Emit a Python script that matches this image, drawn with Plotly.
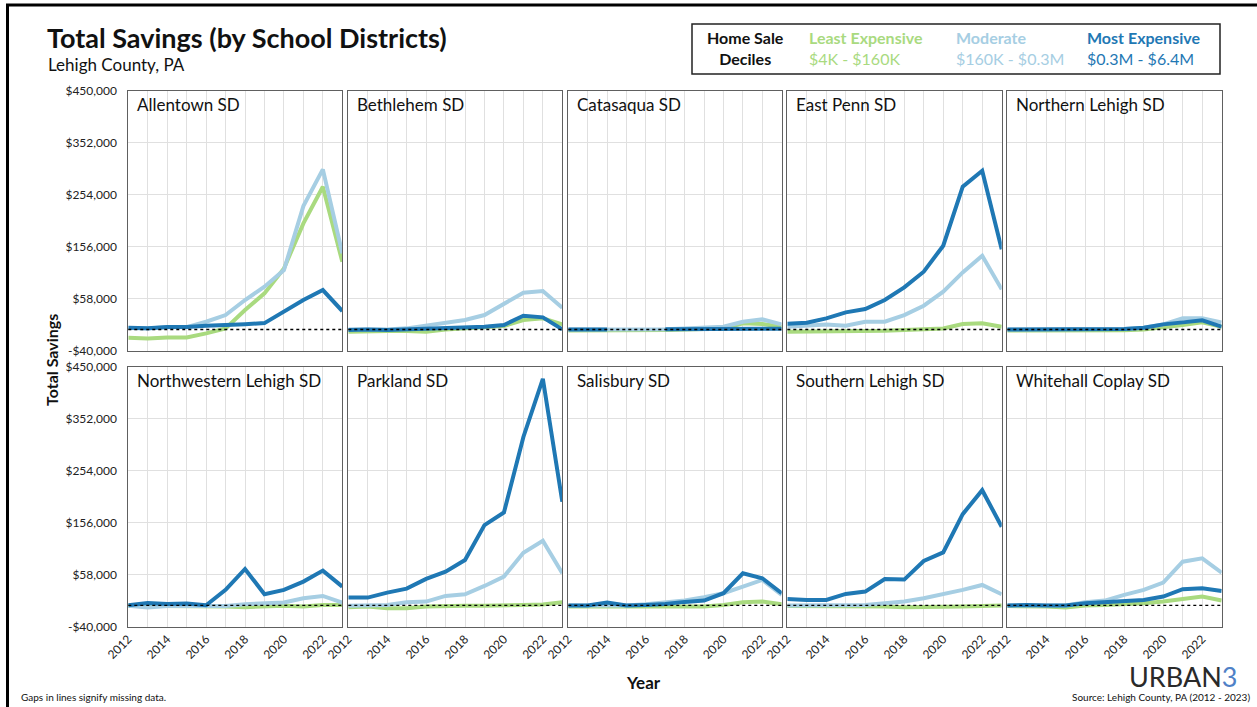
import plotly.graph_objects as go

W, H = 1257, 707

years = list(range(2012, 2024))
districts = ["Allentown SD", "Bethlehem SD", "Catasaqua SD", "East Penn SD", "Northern Lehigh SD",
             "Northwestern Lehigh SD", "Parkland SD", "Salisbury SD", "Southern Lehigh SD",
             "Whitehall Coplay SD"]

y_ticks = [-40000, 58000, 156000, 254000, 352000, 450000]
y_tick_text = ["-$40,000", "$58,000", "$156,000", "$254,000", "$352,000", "$450,000"]
x_ticks = [2012, 2014, 2016, 2018, 2020, 2022]

# Least expensive decile ($4K - $160K)
least = {
    "Allentown SD": [-15500, -16800, -15000, -14900, -7300, 2100, 36600, 68000, 115000, 200000, 269000, 127700],
    "Bethlehem SD": [-4200, -3000, -3000, -3000, -4200, 0, 2000, 3300, 6500, 17800, 21000, 9600],
    "Catasaqua SD": [-2000, -2000, -2000, -2000, -2000, -1000, 0, 1500, 2000, 11500, 10200, 5200],
    "East Penn SD": [-4200, -4200, -4200, -4200, -3000, -2400, -1000, 200, 2000, 10200, 11500, 5200],
    "Northern Lehigh SD": [-2000, -2000, -2000, -2000, -2000, -2000, -1500, 0, 3300, 8400, 13400, 5200],
    "Northwestern Lehigh SD": [-1000, -1000, -1000, -1500, -1500, -2500, -3600, -1500, -1000, -2500, 500, 500],
    "Parkland SD": [-3600, -2400, -5600, -5600, -2400, -1000, -1000, -1000, -1000, 700, 1500, 5700],
    "Salisbury SD": [-2500, -2500, -2500, -2500, -2500, -2500, -2500, -2500, 700, 5700, 7000, 1900],
    "Southern Lehigh SD": [-1500, -1500, -2500, -2500, -2500, -2500, -3600, -3600, -2500, -2500, -1500, -500],
    "Whitehall Coplay SD": [-1500, -1500, -2500, -4300, -500, 700, 1900, 3900, 7000, 12000, 16400, 8900],
}
# Moderate decile ($160K - $0.3M)
moderate = {
    "Allentown SD": [3000, 2000, 4000, 4500, 14600, 27200, 55500, 80600, 112000, 232600, 301700, 143400],
    "Bethlehem SD": [0, 0, 0, 2100, 7100, 12800, 17800, 27200, 49200, 69300, 72400, 41000],
    "Catasaqua SD": [0, 0, 0, 0, 0, 500, 2000, 3300, 5200, 14600, 19000, 9600],
    "East Penn SD": [5200, 7100, 9600, 7100, 14700, 14700, 27200, 44800, 71200, 107600, 139000, 75600],
    "Northern Lehigh SD": [0, 0, 0, 0, 0, 500, 1000, 3300, 9600, 21000, 21000, 13400],
    "Northwestern Lehigh SD": [-1000, -4300, -1500, -1000, -1000, -1500, 2000, 3200, 5100, 13300, 17600, 5100],
    "Parkland SD": [-1000, -1000, 700, 5700, 7000, 17600, 20800, 36400, 54000, 99100, 121700, 60300],
    "Salisbury SD": [-500, -500, -500, -500, 1900, 5100, 8900, 15100, 22700, 35200, 47700, 19500],
    "Southern Lehigh SD": [-500, -500, -500, -500, 700, 3800, 7000, 13300, 20800, 29000, 38300, 20800],
    "Whitehall Coplay SD": [-500, -500, -500, -500, 5700, 8900, 19500, 29000, 42700, 82200, 88500, 61500],
}
# Most expensive decile ($0.3M - $6.4M)
most = {
    "Allentown SD": [3300, 2100, 4600, 4600, 7000, 8000, 10000, 12000, 34700, 55500, 74300, 34700],
    "Bethlehem SD": [-1000, 0, -1000, 0, 1500, 3300, 4600, 5200, 8400, 26000, 22800, 200],
    "Catasaqua SD": [0, 0, 0, None, None, 500, 500, 800, 800, 1500, 1500, 1500],
    "East Penn SD": [10900, 12800, 20900, 32200, 38500, 55500, 79400, 108900, 157900, 269100, 299200, 151000],
    "Northern Lehigh SD": [0, 0, 0, 0, 0, 900, 900, 3300, 9600, 13400, 17200, 5200],
    "Northwestern Lehigh SD": [0, 4500, 2600, 3200, 0, 29000, 68400, 20800, 29000, 44600, 65300, 35200],
    "Parkland SD": [14500, 14500, 23900, 31400, 49600, 63400, 85300, 151100, 174900, 317200, 426800, 195000],
    "Salisbury SD": [-500, -500, 5100, -500, 700, 2600, 6400, 8900, 22700, 60300, 50900, 22700],
    "Southern Lehigh SD": [12000, 10100, 10100, 21400, 25800, 49600, 48400, 83400, 99700, 171800, 216900, 148000],
    "Whitehall Coplay SD": [-500, 700, -500, -500, 3800, 5700, 8900, 10100, 16400, 30200, 32100, 27000],
}

GREEN, LIGHT, DARK = "#a9da7f", "#a6cee3", "#1f78b4"
FONT = "Lato"

# panel edges in pixels
col_px = [(128.3, 342.3), (348.3, 562.3), (568.3, 781.7), (787.3, 1001.7), (1007.3, 1221.7)]
row_px = [(90.7, 350.7), (366.5, 626.5)]

fig = go.Figure()
layout = dict(
    width=W, height=H, autosize=False,
    margin=dict(l=0, r=0, t=0, b=0, autoexpand=False),
    paper_bgcolor="white", plot_bgcolor="white",
    showlegend=False,
    font=dict(family=FONT, color="#222"),
)
annotations = []
shapes = []

for i, name in enumerate(districts):
    r, c = divmod(i, 5)
    sfx = "" if i == 0 else str(i + 1)
    xa, ya = "x" + sfx, "y" + sfx
    for vals, col in ((least[name], GREEN), (moderate[name], LIGHT), (most[name], DARK)):
        fig.add_trace(go.Scatter(x=years, y=vals, mode="lines", xaxis=xa, yaxis=ya,
                                 line=dict(color=col, width=4), connectgaps=False,
                                 hoverinfo="skip"))
    x0, x1 = col_px[c]
    y0, y1 = row_px[r]
    layout["xaxis" + sfx] = dict(
        domain=[x0 / W, x1 / W], anchor=ya, range=[2012, 2023], automargin=False,
        showgrid=True, gridcolor="#e0e0e0", gridwidth=1,
        tickvals=years, ticktext=[str(y) if (y in x_ticks and r == 1) else "" for y in years],
        showticklabels=(r == 1),
        tickangle=-45, tickfont=dict(size=12, color="#222"), ticks="",
        showline=True, linecolor="#606060", linewidth=1, mirror=True, zeroline=False,
    )
    layout["yaxis" + sfx] = dict(
        domain=[1 - y1 / H, 1 - y0 / H], anchor=xa, range=[-40000, 450000], automargin=False,
        tickvals=y_ticks, ticktext=y_tick_text, showticklabels=(c == 0),
        tickfont=dict(size=12, color="#222"), ticks="", ticklabelstandoff=8,
        showgrid=True, gridcolor="#e0e0e0", gridwidth=1,
        showline=True, linecolor="#606060", linewidth=1, mirror=True, zeroline=False,
    )
    shapes.append(dict(type="line", xref=xa + " domain", yref=ya, x0=0, x1=1, y0=0, y1=0,
                       line=dict(color="black", width=1.3, dash="dot")))
    annotations.append(dict(text=name, xref=xa + " domain", yref=ya + " domain", x=0.03, y=0.995,
                            xanchor="left", yanchor="top", showarrow=False,
                            font=dict(size=17, color="#111", family=FONT)))

# frame
shapes.append(dict(type="line", xref="paper", yref="paper", x0=7.5 / W, x1=7.5 / W, y0=0, y1=1 - 4 / H,
                   line=dict(color="black", width=3)))
shapes.append(dict(type="line", xref="paper", yref="paper", x0=6 / W, x1=1, y0=1 - 5 / H, y1=1 - 5 / H,
                   line=dict(color="black", width=3)))
# legend box
shapes.append(dict(type="rect", xref="paper", yref="paper", x0=692 / W, x1=1220 / W,
                   y0=1 - 74 / H, y1=1 - 24 / H, line=dict(color="#222", width=1.5)))


def txt(s, x, y, size, color="#111", anchor="left", bold=False, angle=0):
    annotations.append(dict(text="<b>%s</b>" % s if bold else s, xref="paper", yref="paper",
                            x=x / W, y=1 - y / H, xanchor=anchor, yanchor="middle",
                            showarrow=False, textangle=angle, align=anchor,
                            font=dict(size=size, color=color, family=FONT)))


txt("Total Savings (by School Districts)", 45, 38, 27, bold=True)
txt("Lehigh County, PA", 46, 65, 17)

txt("<b>Home Sale<br>Deciles</b>", 745, 48, 16, anchor="center")
txt("<b>Least Expensive</b><br>$4K - $160K", 807, 48, 16, color=GREEN)
txt("<b>Moderate</b><br>$160K - $0.3M", 954, 48, 16, color=LIGHT)
txt("<b>Most Expensive</b><br>$0.3M - $6.4M", 1085, 48, 16, color=DARK)

txt("Total Savings", 51, 360, 16, bold=True, anchor="center", angle=-90)
txt("Year", 643, 682, 17, bold=True, anchor="center")
txt("Gaps in lines signify missing data.", 19, 697, 10)
txt("Source: Lehigh County, PA (2012 - 2023)", 1252, 697, 10, anchor="right")
txt("URBAN<span style='color:#4f81c7'>3</span>", 1240, 676, 27, color="#2a2a2a", anchor="right")

layout["annotations"] = annotations
layout["shapes"] = shapes
fig.update_layout(**layout)
fig.write_html("out.html", config={"displayModeBar": False},
               post_script="document.body.style.margin = '0';")
